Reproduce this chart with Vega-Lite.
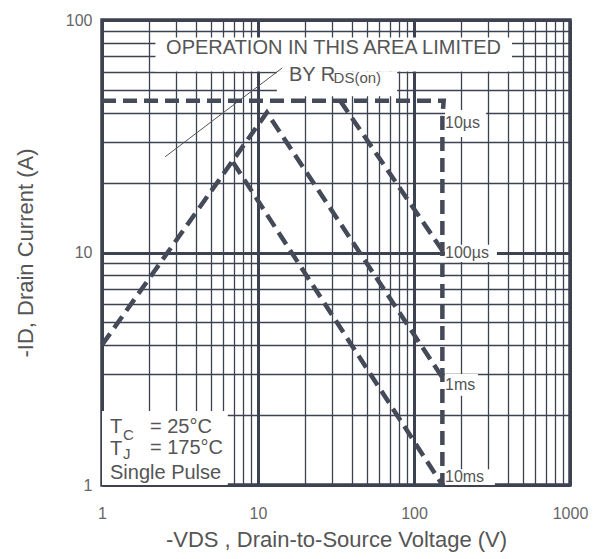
{
  "$schema": "https://vega.github.io/schema/vega-lite/v6.json",
  "width": 468,
  "height": 465,
  "autosize": {"type": "none"},
  "padding": {"left": 102, "top": 20, "right": 30, "bottom": 74},
  "background": "white",
  "config": {"view": {"stroke": "#3d4250", "strokeWidth": 3.5}, "font": "Liberation Sans"},
  "datasets": {
    "boxes": [
      {"name": "operation", "x": 2.2, "x2": 425, "y": 60, "y2": 84},
      {"name": "rds", "x": 13.2, "x2": 78, "y": 47, "y2": 60},
      {"name": "10us", "x": 158, "x2": 290, "y": 31.4, "y2": 41},
      {"name": "100us", "x": 158, "x2": 340, "y": 9.1, "y2": 10.8},
      {"name": "1ms", "x": 158, "x2": 257, "y": 2.42, "y2": 3.0},
      {"name": "10ms", "x": 158, "x2": 330, "y": 1, "y2": 1.17},
      {"name": "legend", "x": 1, "x2": 6.4, "y": 1, "y2": 2.08}
    ],
    "curves": [
      {"s": "10us", "o": 1, "x": 1, "y": 45},
      {"s": "10us", "o": 2, "x": 155, "y": 45},
      {"s": "10us", "o": 3, "x": 152, "y": 38},
      {"s": "10us", "o": 4, "x": 152, "y": 1},
      {"s": "1ms", "o": 1, "x": 1, "y": 4.0},
      {"s": "1ms", "o": 2, "x": 11.4, "y": 40},
      {"s": "1ms", "o": 3, "x": 152, "y": 2.9},
      {"s": "10ms", "o": 1, "x": 6.9, "y": 24.5},
      {"s": "10ms", "o": 2, "x": 152, "y": 1},
      {"s": "100us", "o": 1, "x": 33.6, "y": 45},
      {"s": "100us", "o": 2, "x": 152, "y": 10.2}
    ],
    "pointer": [
      {"o": 1, "x": 2.54, "y": 25.8},
      {"o": 2, "x": 14.3, "y": 62.2}
    ],
    "bigCenter": [
      {"t": "OPERATION IN THIS AREA LIMITED", "x": 30.5, "y": 75.8}
    ],
    "bigLeft": [
      {"t": "BY R", "x": 15.8, "y": 58.0},
      {"t": "T", "x": 1.125, "y": 1.776},
      {"t": "= 25°C", "x": 2.03, "y": 1.776},
      {"t": "T", "x": 1.125, "y": 1.43},
      {"t": "= 175°C", "x": 2.03, "y": 1.44},
      {"t": "Single Pulse", "x": 1.125, "y": 1.126}
    ],
    "rdsSub": [
      {"t": "DS(on)", "x": 30.5, "y": 56.5}
    ],
    "smallLeft": [
      {"t": "10µs", "x": 158, "y": 36.1},
      {"t": "100µs", "x": 158, "y": 9.96},
      {"t": "1ms", "x": 158, "y": 2.69},
      {"t": "10ms", "x": 158, "y": 1.08}
    ],
    "subs": [
      {"t": "C", "x": 1.363, "y": 1.64},
      {"t": "J", "x": 1.363, "y": 1.36}
    ]
  },
  "encoding": {
    "x": {
      "field": "x",
      "type": "quantitative",
      "scale": {"type": "log", "domain": [1, 1000], "nice": false},
      "axis": {
        "title": "-VDS , Drain-to-Source Voltage (V)",
        "values": [1, 2, 3, 4, 5, 6, 7, 8, 9, 10, 20, 30, 40, 50, 60, 70, 80, 90, 100, 200, 300, 400, 500, 600, 700, 800, 900, 1000],
        "format": "d",
        "labelExpr": "indexof([1,10,100,1000], datum.value) >= 0 ? datum.label : ''",
        "ticks": false,
        "domain": false,
        "grid": true,
        "gridColor": "#3d4250",
        "gridOpacity": 1,
        "gridWidth": {"condition": {"test": "indexof([1,10,100,1000], datum.value) >= 0", "value": 3}, "value": 1.3},
        "labelFontSize": 16,
        "labelColor": "#666666",
        "labelPadding": 20,
        "labelFlush": false,
        "labelOverlap": false,
        "labelBound": false,
        "titleFontSize": 22,
        "titleColor": "#555555",
        "titleFontWeight": "normal",
        "titlePadding": 8
      }
    },
    "y": {
      "field": "y",
      "type": "quantitative",
      "scale": {"type": "log", "domain": [1, 100], "nice": false},
      "axis": {
        "title": "-ID, Drain Current (A)",
        "values": [1, 2, 3, 4, 5, 6, 7, 8, 9, 10, 20, 30, 40, 50, 60, 70, 80, 90, 100],
        "format": "d",
        "labelExpr": "indexof([1,10,100], datum.value) >= 0 ? datum.label : ''",
        "ticks": false,
        "domain": false,
        "grid": true,
        "gridColor": "#3d4250",
        "gridOpacity": 1,
        "gridWidth": {"condition": {"test": "indexof([1,10,100], datum.value) >= 0", "value": 3}, "value": 1.3},
        "labelFontSize": 16,
        "labelColor": "#666666",
        "labelPadding": 10,
        "labelOverlap": false,
        "labelBound": false,
        "labelFlush": false,
        "titleFontSize": 22,
        "titleColor": "#555555",
        "titleFontWeight": "normal",
        "titlePadding": 28
      }
    }
  },
  "layer": [
    {
      "data": {"name": "boxes"},
      "mark": {"type": "rect", "color": "white", "opacity": 1},
      "encoding": {"x2": {"field": "x2"}, "y2": {"field": "y2"}}
    },
    {
      "data": {"name": "pointer"},
      "mark": {"type": "line", "color": "#555555", "strokeWidth": 1},
      "encoding": {"order": {"field": "o"}}
    },
    {
      "data": {"name": "curves"},
      "mark": {"type": "line", "color": "#454a58", "strokeWidth": 4.5, "strokeDash": [14, 7], "strokeCap": "butt", "clip": false},
      "encoding": {"detail": {"field": "s"}, "order": {"field": "o"}}
    },
    {
      "data": {"name": "bigCenter"},
      "mark": {"type": "text", "align": "center", "baseline": "middle", "fontSize": 20, "color": "#555555"},
      "encoding": {"text": {"field": "t"}}
    },
    {
      "data": {"name": "bigLeft"},
      "mark": {"type": "text", "align": "left", "baseline": "middle", "fontSize": 20, "color": "#555555"},
      "encoding": {"text": {"field": "t"}}
    },
    {
      "data": {"name": "rdsSub"},
      "mark": {"type": "text", "align": "left", "baseline": "middle", "fontSize": 15, "color": "#555555"},
      "encoding": {"text": {"field": "t"}}
    },
    {
      "data": {"name": "smallLeft"},
      "mark": {"type": "text", "align": "left", "baseline": "middle", "fontSize": 16, "color": "#555555"},
      "encoding": {"text": {"field": "t"}}
    },
    {
      "data": {"name": "subs"},
      "mark": {"type": "text", "align": "left", "baseline": "middle", "fontSize": 15, "color": "#555555"},
      "encoding": {"text": {"field": "t"}}
    }
  ]
}
